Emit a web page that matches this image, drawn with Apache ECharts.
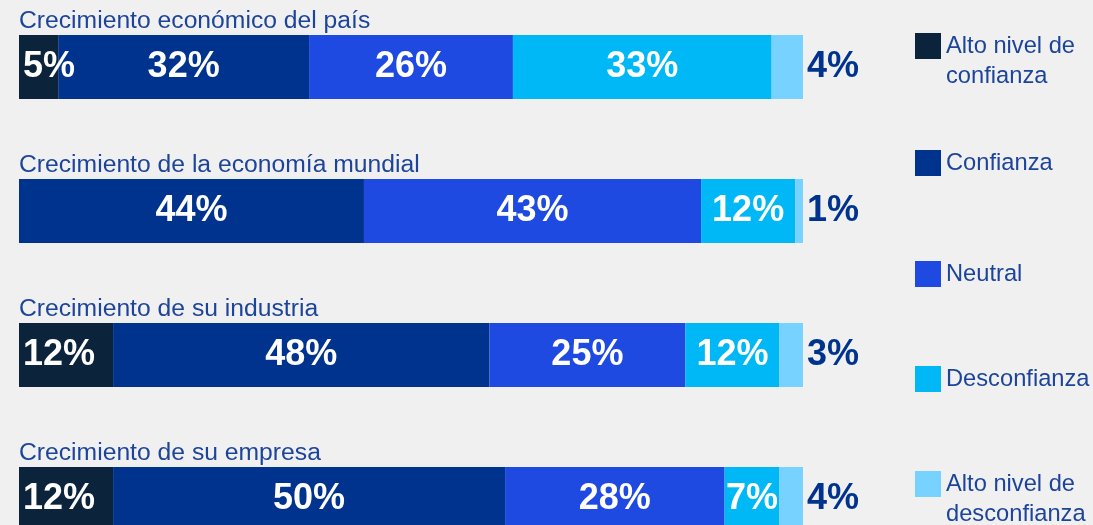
<!DOCTYPE html>
<html>
<head>
    <meta charset="utf-8">
    <title>Confianza</title>
    <script src="https://cdn.jsdelivr.net/npm/echarts@6/dist/echarts.min.js"></script>
    <style type="text/css">
        html, body { margin: 0; padding: 0; background: #f0f0f0; }
        #main { width: 1093px; height: 525px; }
    </style>
</head>
<body>
<div id="main"></div>
<script type="text/javascript">
    // datos
    var categorias = ['Crecimiento económico del país', 'Crecimiento de la economía mundial',
        'Crecimiento de su industria', 'Crecimiento de su empresa'];
    var altoConfianza = [5, 0, 12, 12];
    var confianza = [32, 44, 48, 50];
    var neutral = [26, 43, 25, 28];
    var desconfianza = [33, 12, 12, 7];
    var altoDesconfianza = [4, 1, 3, 4];

    var nombres = ['Alto nivel de confianza', 'Confianza', 'Neutral', 'Desconfianza', 'Alto nivel de desconfianza'];
    var colores = ['#0c233c', '#00338d', '#1f4ae2', '#00b8f5', '#78d2ff'];
    var azulTexto = '#1c449a';
    var fuente = '"Liberation Sans", Arial, sans-serif';

    var datos = [altoConfianza, confianza, neutral, desconfianza, altoDesconfianza];

    function etiqueta(p) {
        return p.value ? p.value + '%' : '';
    }

    var series = datos.map(function (d, i) {
        var label = {
            show: true,
            position: 'inside',
            color: '#fff',
            fontFamily: fuente,
            fontWeight: 'bold',
            fontSize: 36,
            formatter: etiqueta
        };
        if (i === 0) {
            label.position = 'insideLeft';
            label.distance = 4;
        }
        if (i === 4) {
            label.position = 'right';
            label.distance = 4;
            label.color = '#00338d';
        }
        return {
            name: nombres[i],
            type: 'bar',
            stack: 'total',
            barWidth: 64,
            itemStyle: {color: colores[i]},
            label: label,
            data: d
        };
    });

    // una leyenda por elemento para colocarlas como en el original
    var topsLeyenda = [1, 148, 259, 364, 439];
    var leyendas = nombres.map(function (n, i) {
        return {
            data: [n],
            orient: 'vertical',
            left: 915,
            top: topsLeyenda[i],
            padding: 0,
            icon: 'rect',
            itemWidth: 26,
            itemHeight: 26,
            selectedMode: false,
            formatter: function (name) {
                // linea vacia arriba para que la primera linea quede junto al cuadro
                return name.indexOf('nivel de ') > -1 ? '\n' + name.replace('nivel de ', 'nivel de\n') : name;
            },
            textStyle: {
                color: azulTexto,
                fontFamily: fuente,
                fontSize: 23.7,
                lineHeight: 30
            }
        };
    });

    var chart = echarts.init(document.getElementById('main'));
    chart.setOption({
        backgroundColor: '#f0f0f0',
        animation: false,
        legend: leyendas,
        grid: {left: 19, top: -5, width: 784, bottom: -46, containLabel: false, outerBoundsMode: 'none'},
        xAxis: {
            type: 'value',
            min: 0,
            max: 100,
            show: false
        },
        yAxis: {
            type: 'category',
            inverse: true,
            data: categorias,
            axisLine: {show: false},
            axisTick: {show: false},
            axisLabel: {
                inside: true,
                margin: 0,
                align: 'left',
                verticalAlign: 'bottom',
                color: azulTexto,
                fontFamily: fuente,
                fontSize: 24.7,
                lineHeight: 24,
                padding: [0, 0, 34, 0]
            }
        },
        series: series
    });
</script>
</body>
</html>
